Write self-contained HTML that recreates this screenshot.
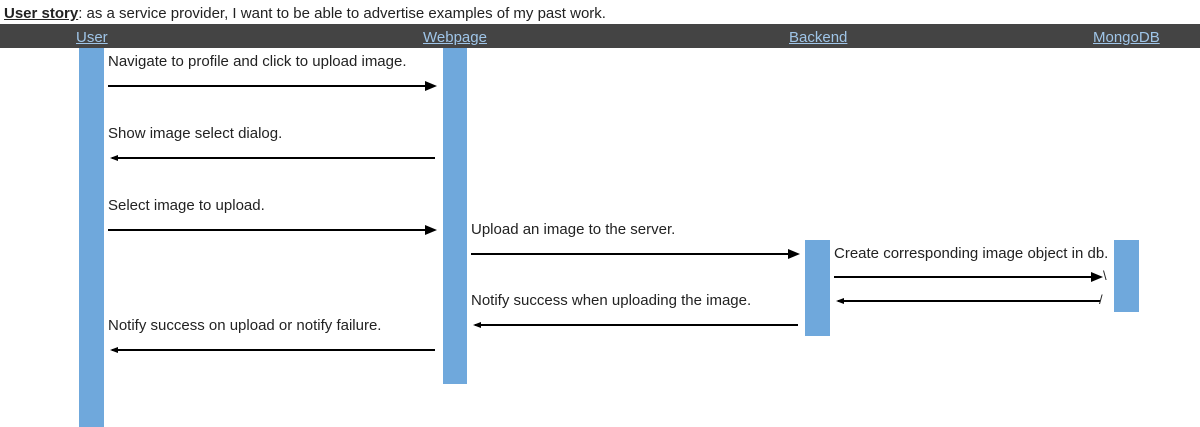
<!DOCTYPE html>
<html><head><style>
body{margin:0;width:1200px;height:427px;position:relative;overflow:hidden;background:#fff;font-family:"Liberation Sans",Arial,sans-serif;font-size:15px;color:#222}
.a{position:absolute;white-space:nowrap}
.bar{position:absolute;background:#6fa8dc}
.ln{position:absolute;height:2px;background:#000}
.hd{position:absolute;top:29px;color:#9fc5e8;text-decoration:underline;font-size:15px}
.rt{position:absolute;width:0;height:0;border-top:5px solid transparent;border-bottom:5px solid transparent;border-left:12px solid #000}
.lt{position:absolute;width:0;height:0;border-top:3px solid transparent;border-bottom:3px solid transparent;border-right:8px solid #000}
</style></head><body>
<div class="a" style="left:4px;top:5px"><b><u>User story</u></b>: as a service provider, I want to be able to advertise examples of my past work.</div>
<div style="position:absolute;left:0;top:24px;width:1200px;height:24px;background:#444"></div>
<div class="hd" style="left:76px">User</div>
<div class="hd" style="left:423px">Webpage</div>
<div class="hd" style="left:789px">Backend</div>
<div class="hd" style="left:1093px">MongoDB</div>

<div class="bar" style="left:79px;top:48px;width:25px;height:379px"></div>
<div class="bar" style="left:443px;top:48px;width:24px;height:336px"></div>
<div class="bar" style="left:805px;top:240px;width:25px;height:96px"></div>
<div class="bar" style="left:1114px;top:240px;width:25px;height:72px"></div>

<div class="a" style="left:108px;top:53px">Navigate to profile and click to upload image.</div>
<div class="ln" style="left:108px;top:85px;width:318px"></div><div class="rt" style="left:425px;top:81px"></div>

<div class="a" style="left:108px;top:125px">Show image select dialog.</div>
<div class="ln" style="left:112px;top:157px;width:323px"></div><div class="lt" style="left:110px;top:155px"></div>

<div class="a" style="left:108px;top:197px">Select image to upload.</div>
<div class="ln" style="left:108px;top:229px;width:318px"></div><div class="rt" style="left:425px;top:225px"></div>

<div class="a" style="left:471px;top:221px">Upload an image to the server.</div>
<div class="ln" style="left:471px;top:253px;width:318px"></div><div class="rt" style="left:788px;top:249px"></div>

<div class="a" style="left:834px;top:245px">Create corresponding image object in db.</div>
<div class="ln" style="left:834px;top:276px;width:258px"></div><div class="rt" style="left:1091px;top:272px"></div>
<div class="a" style="left:1103px;top:268px;font-size:13px">\</div>
<div class="ln" style="left:838px;top:300px;width:262px"></div><div class="lt" style="left:836px;top:298px"></div>
<div class="a" style="left:1099px;top:292px;font-size:13px">/</div>

<div class="a" style="left:471px;top:292px">Notify success when uploading the image.</div>
<div class="ln" style="left:475px;top:324px;width:323px"></div><div class="lt" style="left:473px;top:322px"></div>

<div class="a" style="left:108px;top:317px">Notify success on upload or notify failure.</div>
<div class="ln" style="left:112px;top:349px;width:323px"></div><div class="lt" style="left:110px;top:347px"></div>
</body></html>
